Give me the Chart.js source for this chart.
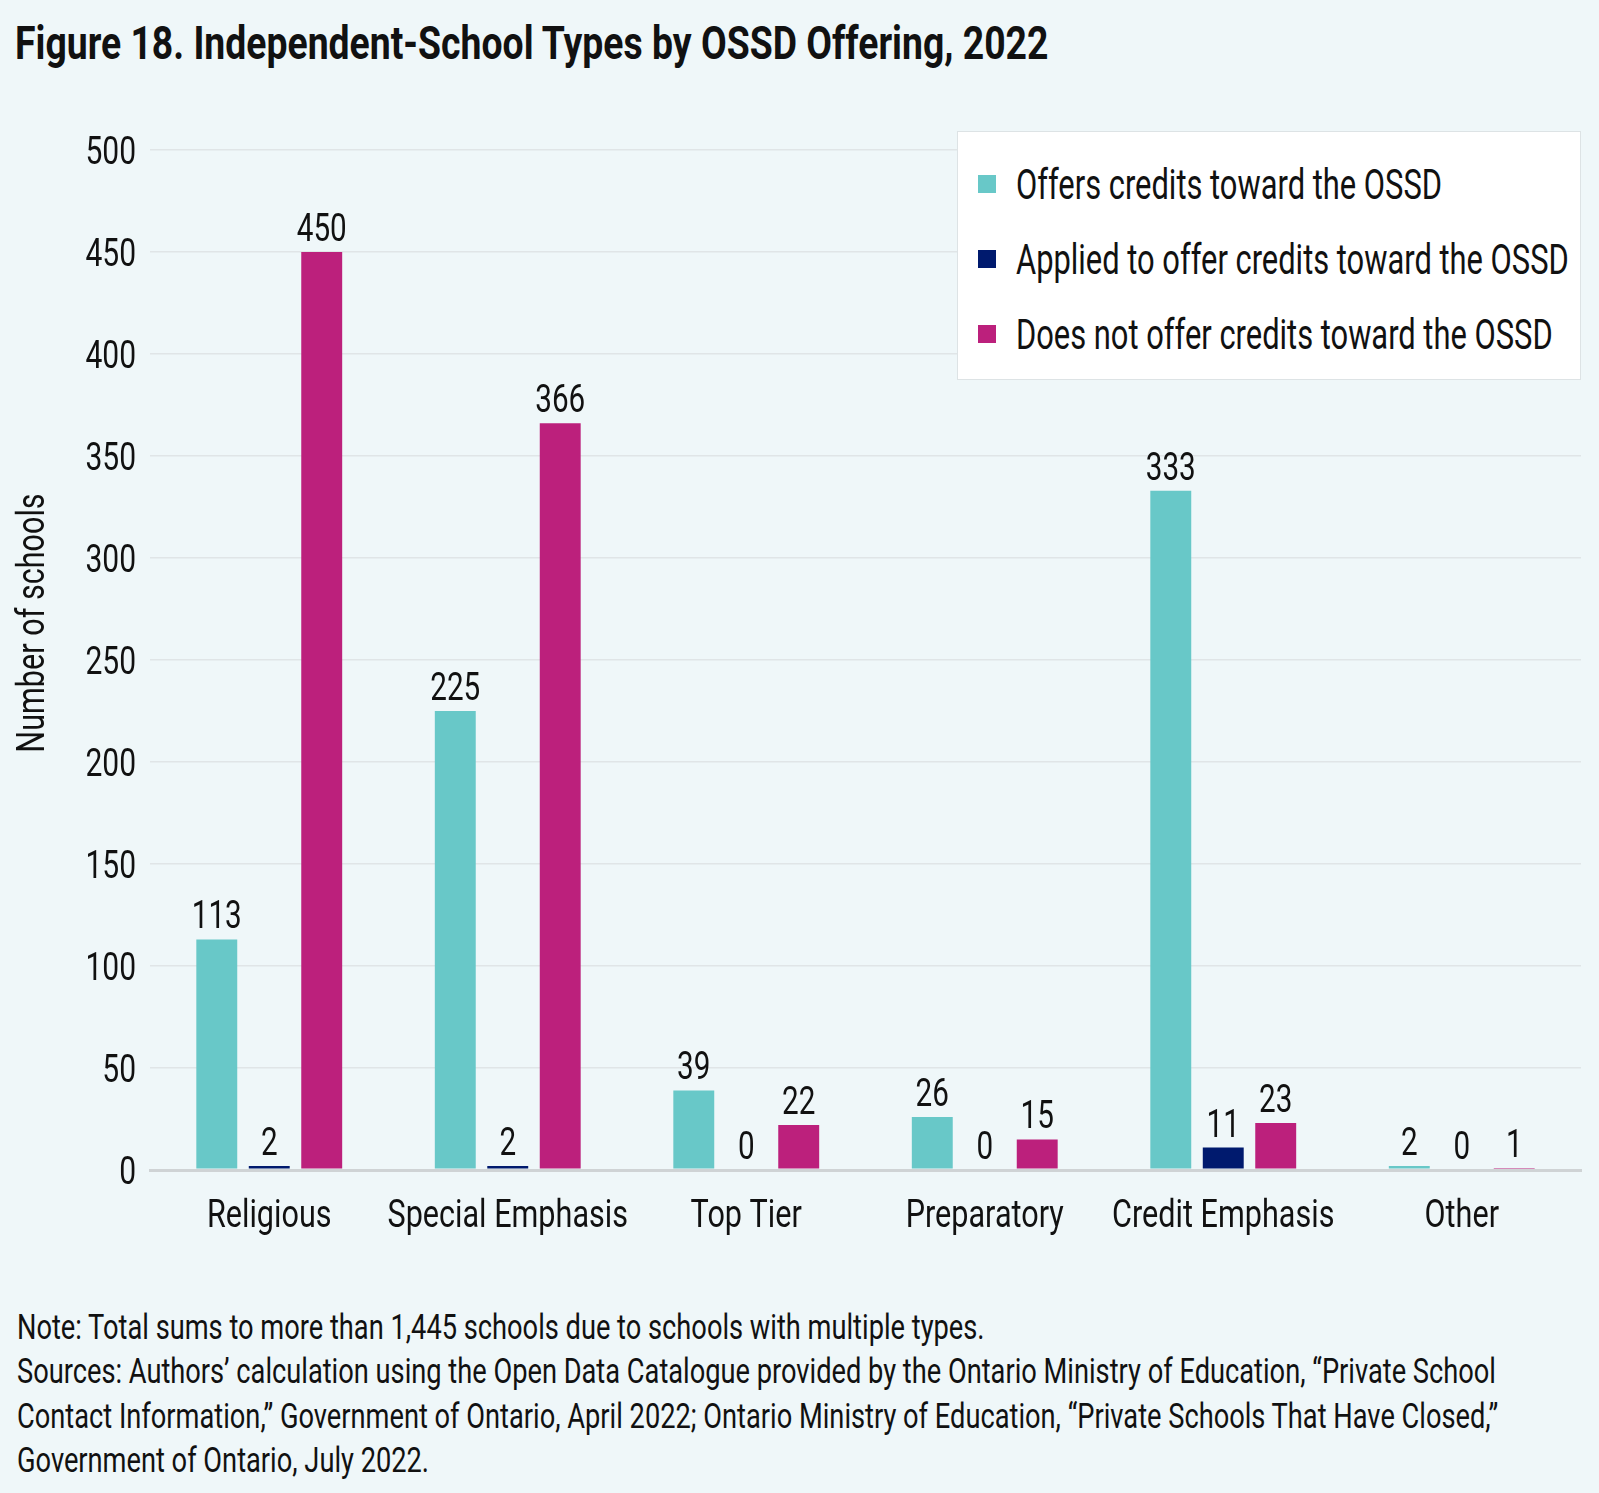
<!DOCTYPE html>
<html>
<head>
<meta charset="utf-8">
<script src="https://cdn.jsdelivr.net/npm/chart.js@4.4.1/dist/chart.umd.min.js"></script>
<style>
    body {
        margin: 0;
        background: #EFF7F9;
        font-family: Roboto, 'Noto Sans', sans-serif;
        color: #111;
    }
    #page { position: relative; width: 1599px; height: 1493px; overflow: hidden; }
    .txt {
        position: absolute; white-space: nowrap;
        transform-origin: 0 0;
    }
    #title { left: 15px; top: 20px; font-size: 46px; line-height: 46px; font-weight: bold; transform: scaleX(0.812); }
    #chartBox { position: absolute; left: 0; top: 0; width: 1599px; height: 1260px; }
    #legend {
        position: absolute; left: 957px; top: 131px; width: 624px; height: 249px;
        background: #fff; border: 1px solid #DDE3E5; box-sizing: border-box;
    }
    .sw { position: absolute; left: 20px; width: 18px; height: 18px; }
    .item { left: 58px; font-size: 42px; line-height: 42px; transform: scaleX(0.735); }
    .note { left: 17px; font-size: 35px; line-height: 35px; transform: scaleX(0.778); }
</style>
</head>
<body>
<div id="page">
    <div id="title" class="txt">Figure 18. Independent-School Types by OSSD Offering, 2022</div>
    <div id="chartBox"><canvas id="chart" width="1599" height="1260"></canvas></div>
    <div id="legend"></div>
    <div id="notes"></div>
</div>
<script>
const categories = ['Religious', 'Special Emphasis', 'Top Tier', 'Preparatory', 'Credit Emphasis', 'Other'];
const offersCredits = [113, 225, 39, 26, 333, 2];
const appliedCredits = [2, 2, 0, 0, 11, 0];
const noCredits = [450, 366, 22, 15, 23, 1];
const seriesNames = ['Offers credits toward the OSSD', 'Applied to offer credits toward the OSSD', 'Does not offer credits toward the OSSD'];
const seriesColors = ['#68C8C8', '#001A6E', '#BC207C'];
const yTicks = [0, 50, 100, 150, 200, 250, 300, 350, 400, 450, 500];
const noteLines = [
    'Note: Total sums to more than 1,445 schools due to schools with multiple types.',
    'Sources: Authors’ calculation using the Open Data Catalogue provided by the Ontario Ministry of Education, “Private School',
    'Contact Information,” Government of Ontario, April 2022; Ontario Ministry of Education, “Private Schools That Have Closed,”',
    'Government of Ontario, July 2022.'
];

const FONT = "Roboto, 'Noto Sans', sans-serif";
// the original uses a condensed face, so text is narrowed by hand

// Legend box sits on top of the plot like in the original
function buildLegend() {
    const legend = document.getElementById('legend');
    const centers = [52, 127, 202];
    seriesNames.forEach((name, i) => {
        const sw = document.createElement('div');
        sw.className = 'sw';
        sw.style.top = (centers[i] - 9) + 'px';
        sw.style.background = seriesColors[i];
        legend.appendChild(sw);

        const div = document.createElement('div');
        div.className = 'txt item';
        div.style.top = (centers[i] - 20) + 'px';
        div.textContent = name;
        legend.appendChild(div);
    });
}

function buildNotes() {
    const notes = document.getElementById('notes');
    noteLines.forEach((line, i) => {
        const div = document.createElement('div');
        div.className = 'txt note';
        div.style.top = (1310 + i * 44.4) + 'px';
        div.textContent = line;
        notes.appendChild(div);
    });
}

// draw a string narrowed horizontally, anchored by align
function squeezedText(ctx, text, x, y, align, squeeze) {
    const w = ctx.measureText(text).width * squeeze;
    let left = x;
    if (align === 'center') left = x - w / 2;
    if (align === 'right') left = x - w;
    ctx.save();
    ctx.translate(left, y);
    ctx.scale(squeeze, 1);
    ctx.textAlign = 'left';
    ctx.fillText(text, 0, 0);
    ctx.restore();
}

// Axis texts and value labels, placed from the chart's own scales
const condensedText = {
    id: 'condensedText',
    afterDatasetsDraw(chart) {
        const ctx = chart.ctx;
        const xs = chart.scales.x;
        const ys = chart.scales.y;
        ctx.save();
        ctx.fillStyle = '#111';
        ctx.textBaseline = 'alphabetic';
        ctx.font = '38px ' + FONT;

        // y tick labels
        ys.ticks.forEach((t, i) => {
            squeezedText(ctx, String(t.value), 136, ys.getPixelForTick(i) + 13.5, 'right', 0.79);
        });

        // x category labels
        categories.forEach((c, i) => {
            squeezedText(ctx, c, xs.getPixelForTick(i), xs.top + 57, 'center', 0.805);
        });

        // value labels above the bars
        chart.data.datasets.forEach((ds, i) => {
            chart.getDatasetMeta(i).data.forEach((bar, j) => {
                squeezedText(ctx, String(ds.data[j]), bar.x, bar.y - 11, 'center', 0.78);
            });
        });

        // y axis title
        ctx.save();
        ctx.translate(44, 623);
        ctx.rotate(-Math.PI / 2);
        squeezedText(ctx, 'Number of schools', 0, 0, 'center', 0.805);
        ctx.restore();

        ctx.restore();
    }
};

const ctx = document.getElementById('chart').getContext('2d');
const chart = new Chart(ctx, {
    type: 'bar',
    data: {
        labels: categories,
        datasets: [
            { label: seriesNames[0], data: offersCredits, backgroundColor: seriesColors[0] },
            { label: seriesNames[1], data: appliedCredits, backgroundColor: seriesColors[1] },
            { label: seriesNames[2], data: noCredits, backgroundColor: seriesColors[2] }
        ]
    },
    options: {
        responsive: false,
        animation: false,
        devicePixelRatio: 1,
        categoryPercentage: 0.66,
        barPercentage: 0.78,
        layout: { padding: { left: 0, top: 150, right: 18, bottom: 0 } },
        plugins: {
            legend: { display: false },
            tooltip: { enabled: false }
        },
        scales: {
            x: {
                grid: { display: false, drawTicks: false },
                border: { display: true, color: '#CFD3D5', width: 3 },
                ticks: { display: false },
                afterFit: (scale) => { scale.height = 90; }
            },
            y: {
                min: 0,
                max: 500,
                afterBuildTicks: (scale) => { scale.ticks = yTicks.map(v => ({ value: v })); },
                grid: {
                    drawTicks: false,
                    color: (c) => c.tick && c.tick.value === 0 ? '#CFD3D5' : '#E0E5E7',
                    lineWidth: (c) => c.tick && c.tick.value === 0 ? 3 : 1.5
                },
                border: { display: false },
                ticks: { display: false },
                afterFit: (scale) => { scale.width = 150; }
            }
        }
    },
    plugins: [condensedText]
});

buildLegend();
buildNotes();
</script>
</body>
</html>
